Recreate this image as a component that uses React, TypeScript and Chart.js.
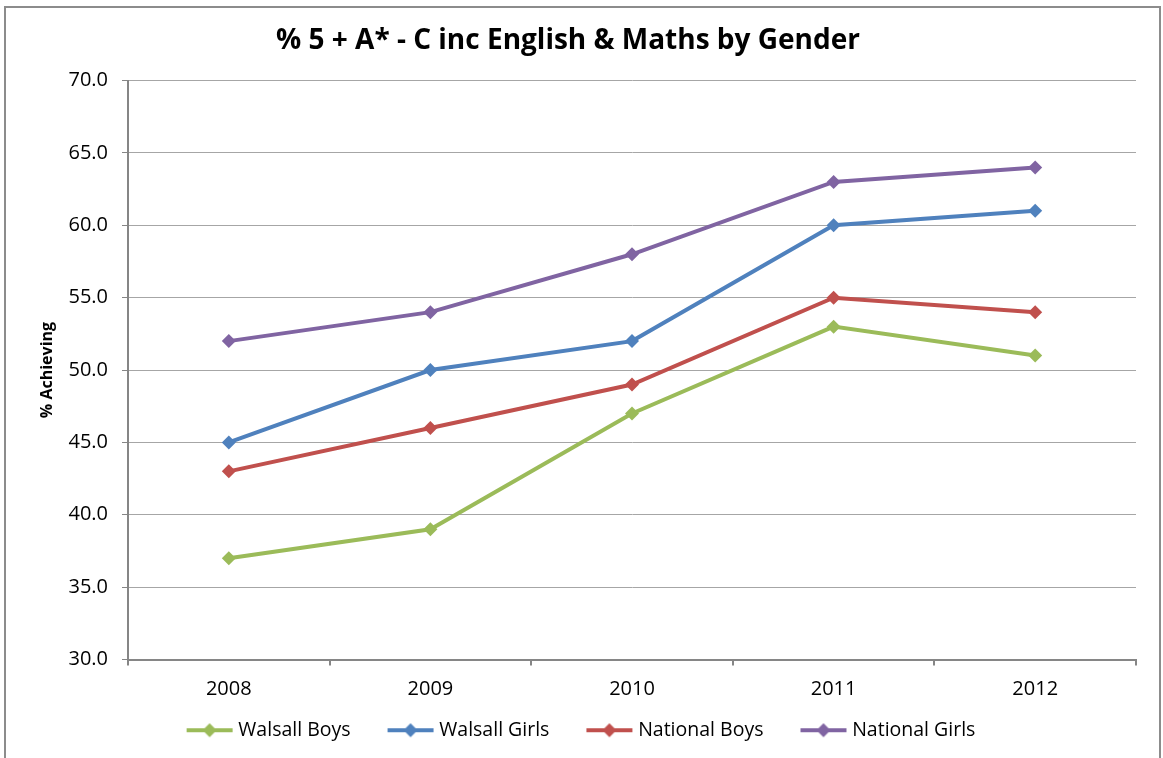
import React, { useEffect, useRef } from "react";
import { Chart, registerables } from "chart.js";

Chart.register(...registerables);

const TITLE = "% 5 + A* - C inc English & Maths by Gender";
const Y_TITLE = "% Achieving";
const YEARS = ["2008", "2009", "2010", "2011", "2012"];
const WALSALL_BOYS = [37, 39, 47, 53, 51];
const WALSALL_GIRLS = [45, 50, 52, 60, 61];
const NATIONAL_BOYS = [43, 46, 49, 55, 54];
const NATIONAL_GIRLS = [52, 54, 58, 63, 64];
const SERIES_NAMES = ["Walsall Boys", "Walsall Girls", "National Boys", "National Girls"];
const COLORS = ["#9BBB59", "#4F81BD", "#C0504D", "#8064A2"];

const FONT = "'Open Sans', 'DejaVu Sans', sans-serif";

// legend marker: transparent left margin, then a 48px line with a diamond
function legendMarker(color: string): HTMLCanvasElement {
  const c = document.createElement("canvas");
  c.width = 78;
  c.height = 16;
  const ctx = c.getContext("2d")!;
  const x0 = 30;
  const x1 = 78;
  ctx.strokeStyle = color;
  ctx.lineWidth = 4;
  ctx.beginPath();
  ctx.moveTo(x0 + 1, 8);
  ctx.lineTo(x1 - 1, 8);
  ctx.stroke();
  ctx.fillStyle = color;
  const cx = (x0 + x1) / 2;
  ctx.beginPath();
  ctx.moveTo(cx, 1);
  ctx.lineTo(cx + 7, 8);
  ctx.lineTo(cx, 15);
  ctx.lineTo(cx - 7, 8);
  ctx.closePath();
  ctx.fill();
  return c;
}

const framePlugin = {
  id: "frame",
  beforeDraw(chart: any) {
    const ctx = chart.ctx;
    ctx.save();
    ctx.fillStyle = "#ffffff";
    ctx.fillRect(0, 0, chart.width, chart.height);
    ctx.strokeStyle = "#8c8c8c";
    ctx.lineWidth = 2;
    ctx.strokeRect(5, 7, 1155, 800);
    ctx.restore();
  },
};

export default function App() {
  const ref = useRef<HTMLCanvasElement>(null);

  useEffect(() => {
    const seriesData = [WALSALL_BOYS, WALSALL_GIRLS, NATIONAL_BOYS, NATIONAL_GIRLS];
    const markers = COLORS.map(legendMarker);
    const chart = new Chart(ref.current!, {
      type: "line",
      data: {
        labels: YEARS,
        datasets: SERIES_NAMES.map((name, i) => ({
          label: name,
          data: seriesData[i],
          borderColor: COLORS[i],
          backgroundColor: COLORS[i],
          borderWidth: 4,
          pointStyle: "rectRot",
          pointRadius: 7,
          pointHoverRadius: 7,
          pointBorderWidth: 0,
          tension: 0,
        })),
      },
      options: {
        responsive: false,
        animation: false,
        layout: { padding: { left: 0, right: 27, top: 0, bottom: 8 } },
        plugins: {
          title: {
            display: true,
            text: TITLE,
            color: "#000",
            font: { family: FONT, size: 28, weight: "bold", lineHeight: 1.2 },
            padding: { top: 24, bottom: 23 },
          },
          legend: {
            position: "bottom",
            labels: {
              usePointStyle: true,
              pointStyleWidth: 68,
              color: "#000",
              font: { family: FONT, size: 19.5 },
              padding: 11,
              generateLabels: (ch: any) =>
                ch.data.datasets.map((ds: any, i: number) => ({
                  text: ds.label,
                  pointStyle: markers[i],
                  fillStyle: COLORS[i],
                  strokeStyle: COLORS[i],
                  lineWidth: 0,
                  hidden: false,
                  datasetIndex: i,
                  fontColor: "#000",
                })),
            },
          },
          tooltip: { enabled: false },
        },
        scales: {
          x: {
            offset: true,
            grid: {
              offset: true,
              drawOnChartArea: false,
              drawTicks: true,
              tickLength: 6,
              color: "#868686",
              lineWidth: 2,
            },
            border: { color: "#868686", width: 2 },
            ticks: {
              color: "#000",
              font: { family: FONT, size: 20 },
              padding: 12,
            },
            afterFit: (scale: any) => {
              scale.height = 50;
            },
          },
          y: {
            min: 30,
            max: 70,
            ticks: {
              stepSize: 5,
              color: "#000",
              font: { family: FONT, size: 20 },
              padding: 14,
              callback: (v: any) => Number(v).toFixed(1),
            },
            grid: {
              color: "#a6a6a6",
              lineWidth: 1,
              tickLength: 6,
              tickColor: "#868686",
            },
            border: { color: "#868686", width: 2 },
            title: {
              display: true,
              text: Y_TITLE,
              color: "#000",
              font: { family: FONT, size: 16, weight: "bold", lineHeight: 1.2 },
              padding: { top: 38, bottom: 0 },
            },
            afterFit: (scale: any) => {
              scale.width = 128;
            },
          },
        },
      },
      plugins: [framePlugin],
    });
    return () => chart.destroy();
  }, []);

  return (
    <div style={{ position: "absolute", left: 0, top: 0, width: 1163, height: 758 }}>
      <canvas ref={ref} width={1163} height={758} style={{ display: "block" }} />
    </div>
  );
}
